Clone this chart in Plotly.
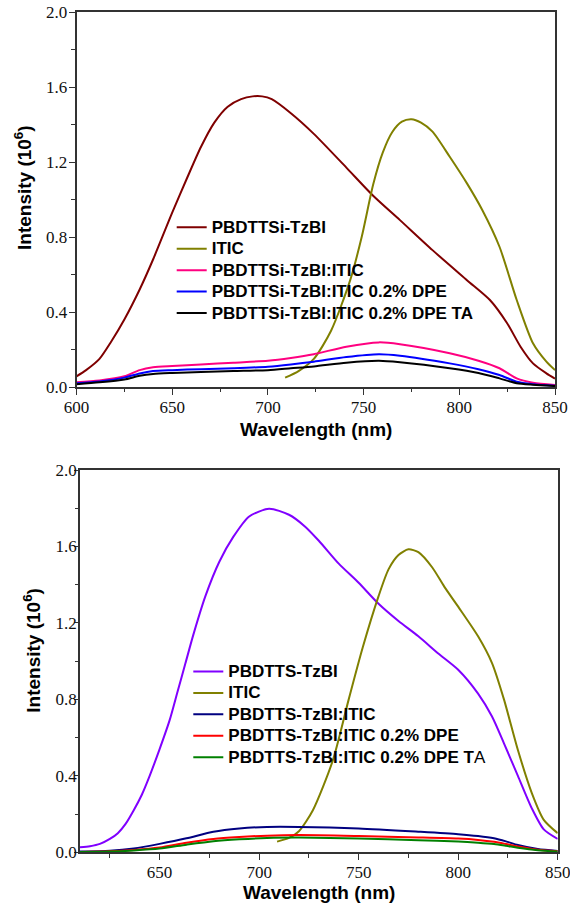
import plotly.graph_objects as go

# ---------------- Top panel data (PBDTTSi series) ----------------
wl_si_pol = [600, 605, 612, 618, 625, 633, 640, 650, 658, 665, 672, 679, 686, 692, 697, 702,
             712, 724, 741, 755, 769, 786, 804, 816, 825, 832, 838.5, 845.5, 850]
int_si_pol = [0.057, 0.09, 0.15, 0.24, 0.36, 0.52, 0.68, 0.93, 1.12, 1.28, 1.41, 1.495, 1.535, 1.55, 1.55, 1.535,
              1.46, 1.35, 1.17, 1.02, 0.89, 0.73, 0.57, 0.464, 0.34, 0.215, 0.126, 0.073, 0.045]

wl_itic_top = [709, 716, 724, 733, 743, 749, 755, 760, 765, 770, 775, 780, 786, 795, 804, 812, 821, 830,
               838.5, 845.5, 850]
int_itic_top = [0.05, 0.085, 0.15, 0.30, 0.57, 0.80, 1.08, 1.25, 1.36, 1.415, 1.428, 1.41, 1.362, 1.228, 1.086,
                0.944, 0.748, 0.464, 0.233, 0.135, 0.09]

wl_si_blend = [600, 612, 625, 633, 640, 650, 665, 682, 700, 712, 724, 741, 758, 769, 795, 810, 821, 830,
               838.5, 850]
int_si_blend = [0.025, 0.035, 0.057, 0.09, 0.105, 0.112, 0.12, 0.13, 0.14, 0.155, 0.175, 0.215, 0.238, 0.228,
                0.18, 0.14, 0.10, 0.046, 0.023, 0.011]
int_si_dpe = [0.02, 0.03, 0.05, 0.072, 0.085, 0.09, 0.095, 0.10, 0.108, 0.12, 0.135, 0.16, 0.175, 0.167,
              0.126, 0.095, 0.064, 0.028, 0.015, 0.007]
int_si_dpe_ta = [0.015, 0.025, 0.04, 0.06, 0.07, 0.075, 0.08, 0.085, 0.09, 0.10, 0.11, 0.13, 0.14, 0.132,
                 0.10, 0.075, 0.046, 0.02, 0.012, 0.005]

# ---------------- Bottom panel data (PBDTTS series) ----------------
wl_s_pol = [610, 615, 620, 625, 629, 633, 637, 641, 645, 650, 655, 659, 663, 667, 673, 680, 687, 695, 705,
            715, 723, 730, 740, 750, 760, 770, 780, 790, 800, 810, 817, 823, 830, 837, 843, 850]
int_s_pol = [0.026, 0.032, 0.044, 0.07, 0.10, 0.15, 0.22, 0.30, 0.40, 0.54, 0.69, 0.84, 0.99, 1.14, 1.34,
             1.52, 1.65, 1.757, 1.797, 1.766, 1.705, 1.63, 1.51, 1.41, 1.30, 1.21, 1.13, 1.04, 0.955, 0.83,
             0.71, 0.57, 0.40, 0.23, 0.12, 0.07]

wl_itic_bot = [709, 715, 720, 727, 737, 745, 752, 760, 765, 770, 775, 780, 787, 793, 800, 810, 817, 823,
               830, 837, 843, 850]
int_itic_bot = [0.056, 0.075, 0.11, 0.22, 0.48, 0.80, 1.07, 1.34, 1.48, 1.555, 1.585, 1.57, 1.49, 1.39,
                1.285, 1.13, 0.99, 0.80, 0.535, 0.31, 0.17, 0.10]

wl_s_blend = [610, 625, 637, 650, 663.5, 677, 690, 704, 720, 750, 780, 800, 810, 818, 824, 830, 840, 850]
int_s_blend = [0.004, 0.008, 0.02, 0.044, 0.073, 0.108, 0.125, 0.133, 0.133, 0.125, 0.108, 0.095, 0.085,
               0.073, 0.057, 0.038, 0.017, 0.007]
int_s_dpe = [0.002, 0.005, 0.012, 0.025, 0.05, 0.07, 0.08, 0.087, 0.09, 0.085, 0.078, 0.072, 0.065,
             0.055, 0.043, 0.03, 0.013, 0.005]
int_s_dpe_ta = [0.002, 0.004, 0.01, 0.02, 0.04, 0.058, 0.068, 0.075, 0.077, 0.072, 0.063, 0.056, 0.05,
                0.043, 0.034, 0.024, 0.011, 0.004]

top_names = ["PBDTTSi-TzBI", "ITIC", "PBDTTSi-TzBI:ITIC", "PBDTTSi-TzBI:ITIC 0.2% DPE",
             "PBDTTSi-TzBI:ITIC 0.2% DPE TA"]
bot_names = ["PBDTTS-TzBI", "ITIC", "PBDTTS-TzBI:ITIC", "PBDTTS-TzBI:ITIC 0.2% DPE",
             "PBDTTS-TzBI:ITIC 0.2% DPE T"]

x_ticks_top = [600, 650, 700, 750, 800, 850]
x_ticks_bot = [650, 700, 750, 800, 850]
y_ticks = [0.0, 0.4, 0.8, 1.2, 1.6, 2.0]

top_colors = ["#7f0000", "#808000", "#ff0080", "#0000ff", "#000000"]
bot_colors = ["#8000ff", "#808000", "#000080", "#ff0000", "#008000"]

W, H = 570, 906
LEG_PX = 17
SANS = "Liberation Sans"
SERIF = "Liberation Serif"

def leg_label(core, tail=""):
    return ("<span style='font-size:%dpx'><b>%s</b>%s</span>" % (LEG_PX, core, tail))

fig = go.Figure()

top_series = [(wl_si_pol, int_si_pol), (wl_itic_top, int_itic_top), (wl_si_blend, int_si_blend),
              (wl_si_blend, int_si_dpe), (wl_si_blend, int_si_dpe_ta)]
for (x, y), name, c in zip(top_series, top_names, top_colors):
    fig.add_trace(go.Scatter(x=x, y=y, mode="lines", name=leg_label(name),
                             line=dict(color=c, width=2, shape="spline", smoothing=0.7),
                             xaxis="x", yaxis="y", legend="legend"))

bot_series = [(wl_s_pol, int_s_pol), (wl_itic_bot, int_itic_bot), (wl_s_blend, int_s_blend),
              (wl_s_blend, int_s_dpe), (wl_s_blend, int_s_dpe_ta)]
for i, ((x, y), name, c) in enumerate(zip(bot_series, bot_names, bot_colors)):
    fig.add_trace(go.Scatter(x=x, y=y, mode="lines", name=leg_label(name, "A" if i == 4 else ""),
                             line=dict(color=c, width=2, shape="spline", smoothing=0.7),
                             xaxis="x2", yaxis="y2", legend="legend2"))

tickfont = dict(family=SERIF, size=17, color="#111111")
axcol = "#333333"

def xaxis(domain, anchor, rng, ticks, standoff):
    return dict(domain=domain, anchor=anchor, range=rng, tickvals=ticks, ticktext=[str(t) for t in ticks],
                showline=True, linecolor=axcol, linewidth=1.5, mirror=True, showgrid=False, zeroline=False,
                ticks="outside", ticklen=6, tickwidth=1, tickcolor=axcol, tickfont=tickfont,
                ticklabelstandoff=standoff, ticklabeloverflow="allow",
                minor=dict(dtick=25, tick0=600, ticks="outside", ticklen=3.5, tickcolor=axcol, showgrid=False))

def yaxis(domain, anchor, standoff, ticklen):
    return dict(domain=domain, anchor=anchor, range=[0, 2.0], tickvals=y_ticks,
                ticktext=["%.1f" % v for v in y_ticks],
                showline=True, linecolor=axcol, linewidth=1.5, mirror=True, showgrid=False, zeroline=False,
                ticks="outside", ticklen=ticklen, tickwidth=1, tickcolor=axcol, tickfont=tickfont,
                ticklabelstandoff=standoff, ticklabeloverflow="allow",
                minor=dict(dtick=0.2, tick0=0, ticks="outside", ticklen=3.5, tickcolor=axcol, showgrid=False))

leg_font = dict(family=SANS, size=14.2, color="black")
fig.update_layout(
    width=W, height=H,
    margin=dict(l=0, r=0, t=0, b=0, autoexpand=False),
    paper_bgcolor="white", plot_bgcolor="white",
    showlegend=True,
    xaxis=xaxis([76.5 / W, 555 / W], "y", [600, 850], x_ticks_top, -2),
    yaxis=yaxis([1 - 387 / H, 1 - 12 / H], "x", -2, 6),
    xaxis2=xaxis([80 / W, 557.7 / W], "y2", [610, 850], x_ticks_bot, -2),
    yaxis2=yaxis([1 - 852.3 / H, 1 - 470 / H], "x2", -6, 4),
    legend=dict(x=(211.7 - 40) / W, y=1 - 211.5 / H, xanchor="left", yanchor="top",
                bgcolor="rgba(0,0,0,0)", font=leg_font, tracegroupgap=0, itemwidth=30),
    legend2=dict(x=(228.3 - 40) / W, y=1 - 655.7 / H, xanchor="left", yanchor="top",
                 bgcolor="rgba(0,0,0,0)", font=leg_font, tracegroupgap=0, itemwidth=30),
)

title_font = dict(family=SANS, size=19, color="black")
annots = [
    dict(text="<b>Wavelength (nm)</b>", x=315.7 / W, y=1 - 429 / H),
    dict(text="<b>Wavelength (nm)</b>", x=319 / W, y=1 - 892 / H),
    dict(text="<b>Intensity (10<sup>6</sup>)</b>", x=23 / W, y=1 - 188 / H, textangle=-90),
    dict(text="<b>Intensity (10<sup>6</sup>)</b>", x=31.7 / W, y=1 - 650 / H, textangle=-90),
]
for a in annots:
    fig.add_annotation(xref="paper", yref="paper", xanchor="center", yanchor="middle",
                       showarrow=False, font=title_font, **a)

fig.write_html("out.html", config={"displayModeBar": False})
